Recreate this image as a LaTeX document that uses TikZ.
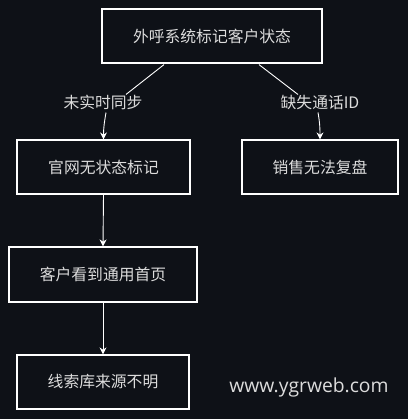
\documentclass[tikz,border=0pt]{standalone}
\usepackage{fontspec}
\setmainfont{Noto Sans CJK SC}
\newfontfamily\wmfont{Open Sans}
\usetikzlibrary{arrows.meta,calc}
\definecolor{bg}{HTML}{0E1117}
\definecolor{txt}{HTML}{DCDCDC}
\tikzset{
  box/.style={draw=white, line width=1.2pt, text=txt, inner sep=0pt,
    font=\fontsize{15.8pt}{18pt}\selectfont},
  lbl/.style={fill=bg, text=txt, inner sep=1pt, font=\fontsize{15.8pt}{18pt}\selectfont},
  edge/.style={draw=white, line width=0.9pt},
  arr/.style={edge, -{Stealth[length=7pt,width=7pt]}}
}
\begin{document}
\begin{tikzpicture}[x=1pt,y=-1pt]
\useasboundingbox[fill=bg] (0,0) rectangle (408,419);
\node[box, minimum width=220pt, minimum height=54pt] (top) at (212,36) {外呼系统标记客户状态};
\node[box, minimum width=173pt, minimum height=54pt] (left) at (103.5,167) {官网无状态标记};
\node[box, minimum width=156pt, minimum height=54pt] (right) at (320,167) {销售无法复盘};
\node[box, minimum width=188pt, minimum height=55pt] (home) at (103,274.5) {客户看到通用首页};
\node[box, minimum width=172pt, minimum height=54pt] (leads) at (103,382) {线索库来源不明};
\node[lbl] (l1) at (103,102) {未实时同步};
\node[lbl] (l2) at (320,102) {缺失通话ID};
\draw[edge] ($(top.south)+(-48,1)$) -- ($(l1.north)+(23,1)$);
\draw[edge] ($(top.south)+(47,1)$) -- ($(l2.north)+(-22,1)$);
\draw[arr] ($(l1.south)+(3,2)$) to[out=-100,in=90] (left.north);
\draw[arr] ($(l2.south)+(-2,2)$) to[out=-80,in=90] (right.north);
\draw[arr] (left.south) -- (home.north);
\draw[arr] (home.south) -- (leads.north);
\node[text=txt, inner sep=0pt] (wm) at (309,387) {\wmfont\fontsize{19.3pt}{22pt}\selectfont www.ygrweb.com};
\end{tikzpicture}
\end{document}
